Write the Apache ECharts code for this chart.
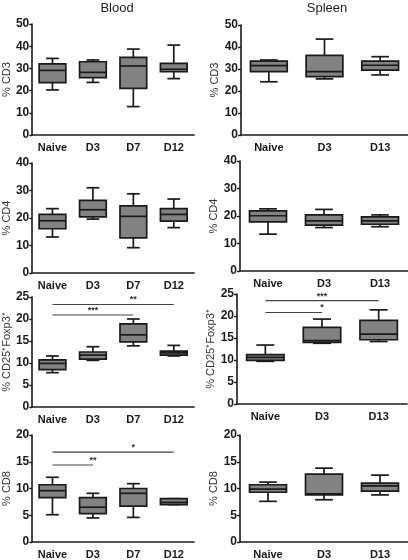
<!DOCTYPE html>
<html>
<head>
<meta charset="utf-8">
<script src="https://cdn.jsdelivr.net/npm/echarts@6/dist/echarts.min.js"></script>
<style>
html,body{margin:0;padding:0;background:#fff;}
#chart{width:408px;height:560px;}
</style>
</head>
<body>
<div id="chart"></div>
<script>
// Categories
const bloodCats = ['Naive', 'D3', 'D7', 'D12'];
const spleenCats = ['Naive', 'D3', 'D13'];

// Five-number summaries: [min, q1, median, q3, max]
const bloodCD3 = [[20.3, 23.6, 29.1, 32.0, 34.5], [23.7, 25.8, 28.2, 33.0, 33.8], [12.8, 21.0, 31.1, 35.0, 38.7], [25.4, 28.5, 29.6, 32.3, 40.5]];
const spleenCD3 = [[24.2, 28.8, 31.5, 33.6, 34.1], [25.5, 26.5, 28.8, 36.2, 43.6], [27.3, 29.5, 31.7, 33.6, 35.6]];
const bloodCD4 = [[13.1, 16.1, 19.0, 21.3, 23.4], [19.6, 20.4, 23.0, 26.4, 31.0], [9.2, 12.8, 20.6, 24.4, 28.8], [16.5, 18.9, 21.3, 23.4, 26.9]];
const spleenCD4 = [[13.4, 17.9, 20.1, 21.9, 22.6], [15.8, 16.7, 18.2, 20.4, 22.4], [16.1, 17.0, 18.2, 19.7, 20.4]];
const bloodTreg = [[7.8, 8.5, 9.9, 10.7, 11.6], [10.6, 10.9, 11.8, 12.5, 13.7], [13.9, 14.8, 16.4, 18.9, 20.0], [11.6, 11.8, 12.3, 12.7, 14.0]];
const spleenTreg = [[9.7, 9.9, 10.6, 11.2, 13.4], [13.8, 14.0, 14.4, 17.4, 19.3], [14.2, 14.6, 15.9, 19.0, 21.4]];
const bloodCD8 = [[5.1, 8.3, 9.6, 10.7, 12.1], [4.5, 5.3, 6.5, 8.3, 9.1], [4.6, 6.7, 9.1, 10.0, 10.9], [7.0, 7.0, 7.4, 8.1, 8.1]];
const spleenCD8 = [[7.6, 9.3, 9.9, 10.7, 11.2], [7.9, 8.8, 9.0, 12.7, 13.8], [8.8, 9.5, 10.5, 11.0, 12.5]];

// Axis settings
const yMaxes = [50, 50, 40, 40, 25, 25, 20, 20];
const yIntervals = [10, 10, 10, 10, 5, 5, 5, 5];
const yNames = ['% CD3', '% CD3', '% CD4', '% CD4', '% CD25\u207AFoxp3\u207A', '% CD25\u207AFoxp3\u207A', '% CD8', '% CD8'];
const panelTitles = ['Blood', 'Spleen'];

// Significance brackets: [fromCat, toCat, y, stars]
const sigBloodTreg = [['Naive', 'D7', 20.9, '***'], ['Naive', 'D12', 23.3, '**']];
const sigSpleenTreg = [['Naive', 'D3', 20.8, '*'], ['Naive', 'D13', 23.5, '***']];
const sigBloodCD8 = [['Naive', 'D3', 14.4, '**'], ['Naive', 'D12', 16.8, '*']];

const panels = [
  { cats: bloodCats, data: bloodCD3, sig: [] },
  { cats: spleenCats, data: spleenCD3, sig: [] },
  { cats: bloodCats, data: bloodCD4, sig: [] },
  { cats: spleenCats, data: spleenCD4, sig: [] },
  { cats: bloodCats, data: bloodTreg, sig: sigBloodTreg },
  { cats: spleenCats, data: spleenTreg, sig: sigSpleenTreg },
  { cats: bloodCats, data: bloodCD8, sig: sigBloodCD8 },
  { cats: spleenCats, data: spleenCD8, sig: [] }
];

const grids = [
  { left: 30, top: 24, width: 164, height: 111 },
  { left: 241, top: 25, width: 167, height: 110 },
  { left: 31, top: 163, width: 163, height: 110 },
  { left: 240, top: 161, width: 168, height: 110 },
  { left: 32, top: 297, width: 162, height: 110 },
  { left: 237, top: 294, width: 170, height: 110 },
  { left: 31, top: 435, width: 163, height: 111 },
  { left: 240, top: 435, width: 168, height: 111 }
];

const FONT = '"Liberation Sans", Arial, Helvetica, sans-serif';
const INK = '#1a1a1a';

function renderBox(params, api) {
  const x = api.value(0);
  const mn = api.coord([x, api.value(1)]);
  const q1 = api.coord([x, api.value(2)]);
  const md = api.coord([x, api.value(3)]);
  const q3 = api.coord([x, api.value(4)]);
  const mx = api.coord([x, api.value(5)]);
  const band = api.size([1, 0])[0];
  const bw = band * 0.66;
  const cw = bw * 0.48;
  const cx = md[0];
  const ls = { stroke: INK, lineWidth: 1.7, fill: null };
  return {
    type: 'group',
    children: [
      { type: 'line', shape: { x1: cx, y1: mx[1], x2: cx, y2: q3[1] }, style: ls },
      { type: 'line', shape: { x1: cx, y1: q1[1], x2: cx, y2: mn[1] }, style: ls },
      { type: 'line', shape: { x1: cx - cw / 2, y1: mx[1], x2: cx + cw / 2, y2: mx[1] }, style: ls },
      { type: 'line', shape: { x1: cx - cw / 2, y1: mn[1], x2: cx + cw / 2, y2: mn[1] }, style: ls },
      { type: 'rect', shape: { x: cx - bw / 2, y: q3[1], width: bw, height: q1[1] - q3[1] }, style: { fill: '#828282', stroke: INK, lineWidth: 1.7 } },
      { type: 'line', shape: { x1: cx - bw / 2, y1: md[1], x2: cx + bw / 2, y2: md[1] }, style: ls }
    ]
  };
}

const option = {
  animation: false,
  backgroundColor: '#fff',
  title: [
    { text: panelTitles[0], left: 112, top: -3, textAlign: 'center', textStyle: { fontFamily: FONT, fontSize: 13, fontWeight: 'normal', color: '#222' } },
    { text: panelTitles[1], left: 322, top: -3, textAlign: 'center', textStyle: { fontFamily: FONT, fontSize: 13, fontWeight: 'normal', color: '#222' } }
  ],
  grid: grids,
  xAxis: panels.map((p, i) => ({
    type: 'category', gridIndex: i, data: p.cats, boundaryGap: true,
    axisLine: { lineStyle: { color: INK, width: 1.6 } },
    axisTick: { alignWithLabel: true, length: 4, lineStyle: { color: INK, width: 1.4 } },
    axisLabel: { fontFamily: FONT, fontSize: 11, fontWeight: 'bold', color: '#1a1a1a', margin: 7 },
    splitLine: { show: false }
  })),
  yAxis: panels.map((p, i) => ({
    type: 'value', gridIndex: i, min: 0, max: yMaxes[i], interval: yIntervals[i],
    name: yNames[i], nameLocation: 'middle', nameGap: 19,
    nameTextStyle: { fontFamily: FONT, fontSize: 11, color: '#333' },
    axisLine: { show: true, lineStyle: { color: INK, width: 1.6 } },
    axisTick: { show: true, length: 3, lineStyle: { color: INK, width: 1.4 } },
    axisLabel: { fontFamily: FONT, fontSize: 12, fontWeight: 'bold', color: '#1a1a1a', margin: 3 },
    splitLine: { show: false }
  })),
  series: []
};

panels.forEach((p, i) => {
  option.series.push({
    type: 'custom', xAxisIndex: i, yAxisIndex: i,
    renderItem: renderBox,
    encode: { x: 0, y: [1, 2, 3, 4, 5] },
    data: p.data.map((d, k) => [k].concat(d)),
    z: 2
  });
  p.sig.forEach(s => {
    option.series.push({
      type: 'line', xAxisIndex: i, yAxisIndex: i,
      data: [[s[0], s[2]], [s[1], s[2]]],
      symbol: 'none', silent: true,
      lineStyle: { color: '#444', width: 1.1 },
      z: 3,
      markPoint: {
        symbol: 'circle', symbolSize: 0, silent: true,
        data: [{ coord: [(p.cats.indexOf(s[0]) + p.cats.indexOf(s[1])) / 2, s[2]], value: s[3] }],
        label: { show: true, position: 'top', distance: 0, formatter: s[3], fontFamily: FONT, fontSize: 9, fontWeight: 'bold', color: '#333' }
      }
    });
  });
});

const chart = echarts.init(document.getElementById('chart'), null, { renderer: 'canvas' });
chart.setOption(option);
</script>
</body>
</html>
